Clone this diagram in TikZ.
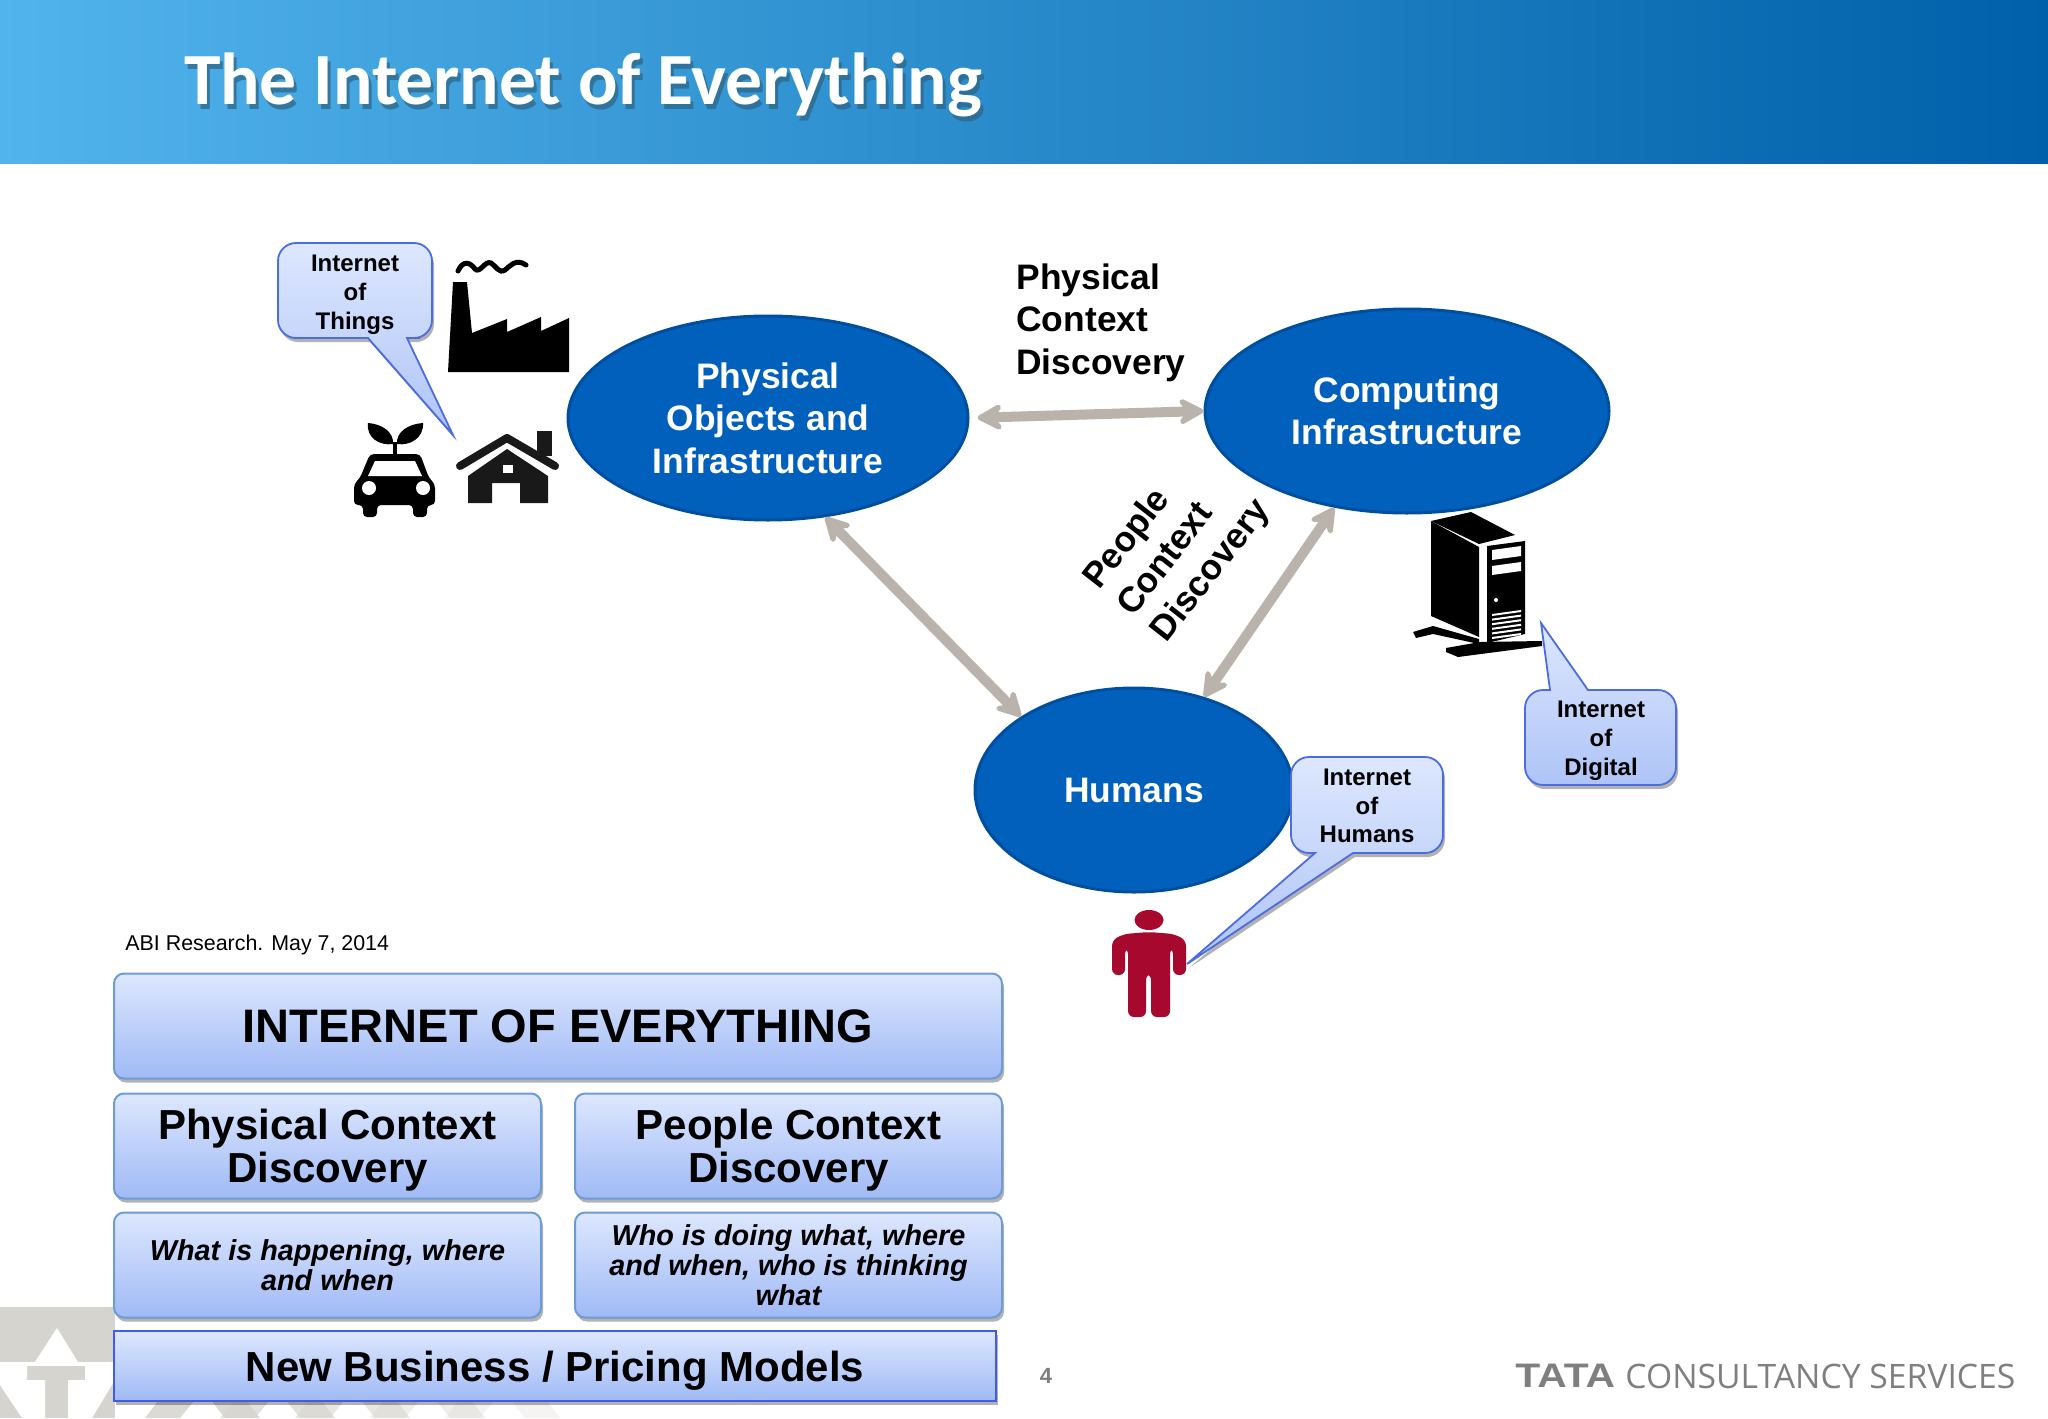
\documentclass[tikz,border=0pt]{standalone}
\usepackage{fontspec}
\setmainfont{Liberation Sans}
\newfontfamily\titlefont{Carlito}
\newfontfamily\logofont{Open Sans}
\usetikzlibrary{shapes.geometric}
\usetikzlibrary{shadows}
\usetikzlibrary{arrows.meta}

\definecolor{bandleft}{HTML}{52B4EC}
\definecolor{bandright}{HTML}{0060A9}
\definecolor{ovalblue}{HTML}{0060BC}
\definecolor{ovalline}{HTML}{004F9E}
\definecolor{boxtop}{HTML}{DDE7FE}
\definecolor{boxbottom}{HTML}{A0BAF6}
\definecolor{boxline}{HTML}{6C9BD6}
\definecolor{linkgrey}{HTML}{B9B3AB}
\definecolor{markgrey}{HTML}{D6D4CE}
\definecolor{footgrey}{HTML}{7F7F7F}
\definecolor{personred}{HTML}{A6092D}

\tikzset{
  softshadow/.style={drop shadow={shadow xshift=1pt,shadow yshift=-2pt,opacity=.3,fill=black}},
  oval/.style={ellipse,draw=ovalline,line width=1.5pt,fill=ovalblue,text=white,align=center,inner sep=0pt,
    font=\fontsize{17.7}{21.2}\selectfont\bfseries},
  panel/.style={rectangle,rounded corners=5pt,draw=boxline,line width=1pt,top color=boxtop,bottom color=boxbottom,
    align=center,inner sep=0pt,softshadow},
  heading/.style={font=\fontsize{21}{21.5}\selectfont\bfseries},
  question/.style={font=\fontsize{14.4}{15}\selectfont\bfseries\itshape},
  bubble/.style={draw=boxline!70!blue,line width=.9pt,top color=boxtop,bottom color=boxbottom!85!white,softshadow},
  bubbletext/.style={align=center,inner sep=0pt,font=\fontsize{12}{14.4}\selectfont\bfseries},
  sidetext/.style={align=left,inner sep=0pt,font=\fontsize{17.7}{21.4}\selectfont\bfseries},
  link/.style={linkgrey,line width=5pt,{Stealth[length=16pt,width=17pt,inset=6pt,round]}-{Stealth[length=16pt,width=17pt,inset=6pt,round]}}
}

\begin{document}
\begin{tikzpicture}[x=0.5pt,y=-0.5pt]
\useasboundingbox (0,0) rectangle (2048,1418);

\shade[left color=bandleft,right color=bandright] (0,0) rectangle (2048,163);
\node[inner sep=0pt,text=black!45!bandleft,opacity=.7] (titleshadow) at (586,90)
  {\titlefont\fontsize{36.8}{40}\selectfont\bfseries The Internet of Everything};
\node[inner sep=0pt,text=white] (title) at (583,85)
  {\titlefont\fontsize{36.8}{40}\selectfont\bfseries The Internet of Everything};

% watermark
\fill[markgrey] (0,1307) -- (115,1307) -- (115,1362) -- (0,1362) -- cycle;
\fill[white] (57,1328) -- (35,1362) -- (78,1362) -- cycle;
\fill[markgrey] (0,1366) -- (115,1366) -- (115,1418) -- (0,1418) -- cycle;
\fill[white] (0,1366) -- (27,1366) -- (27,1380) -- (45,1380) -- (45,1418) -- (22,1418) -- (0,1385) -- cycle;
\fill[white] (85,1366) -- (115,1366) -- (115,1380) -- (92,1418) -- (68,1418) -- (68,1380) -- (85,1380) -- cycle;
\foreach \i in {1,...,5}
  \fill[markgrey,opacity=1-0.15*\i] (70+75*\i,1418) -- (110+75*\i,1366) -- (145+75*\i,1366) -- (185+75*\i,1418) -- (150+75*\i,1418) -- (128+75*\i,1390) -- (105+75*\i,1418) -- cycle;

% ovals
\node[oval,minimum width=200pt,minimum height=102pt] (physical) at (768,418) {Physical\\Objects and\\Infrastructure};
\node[oval,minimum width=202pt,minimum height=102pt] (computing) at (1407,411) {Computing\\Infrastructure};
\node[oval,minimum width=159pt,minimum height=102pt] (humans) at (1134,790) {Humans};

\draw[link,shorten <=4pt] (physical.east) -- (computing.west);
\draw[link] (physical.-60) -- (humans.147);
\draw[link] (computing.-127) -- (humans.53);

\node[sidetext,anchor=north west] (physlabel) at (1016,263) {Physical\\Context\\Discovery};
\node[sidetext,rotate=52] (peoplelabel) at (1178,545) {People\\Context\\Discovery};

% factory
\fill[black] (453,282) -- (467,282) -- (472,333) -- (507,319) -- (507,332) -- (541,317) -- (541,331) -- (569,318) -- (569,372) -- (448,372) -- cycle;
\draw[black,line width=2.5pt,line cap=round] (458,271) .. controls (463,260) and (470,262) .. (475,269)
  .. controls (480,274) and (485,260) .. (491,263) .. controls (496,266) and (499,274) .. (505,270)
  .. controls (510,266) and (516,258) .. (526,265);

% car
\fill[black] (393,444) .. controls (380,446) and (366,438) .. (368,423) .. controls (382,424) and (394,432) .. (393,444) -- cycle;
\fill[black] (397,444) .. controls (410,446) and (424,438) .. (423,423) .. controls (408,424) and (396,432) .. (397,444) -- cycle;
\fill[black] (393,442) rectangle (397,456);
\fill[black,rounded corners=2pt] (370,454) -- (420,454) -- (429,478) -- (435,484) -- (435,505) -- (427,505) -- (427,517) -- (413,517) -- (413,505) -- (377,505) -- (377,517) -- (363,517) -- (363,505) -- (354,505) -- (354,484) -- (360,478) -- cycle;
\fill[white] (375,461) -- (415,461) -- (422,476) -- (368,476) -- cycle;
\fill[white] (369,488) circle[radius=7];
\fill[white] (423,488) circle[radius=7];

% house
\fill[black!90] (537,431) rectangle (552,456);
\draw[black!90,line width=4pt,line cap=round,line join=round] (460,466) -- (507,438) -- (555,466);
\fill[black!90] (468,503) -- (468,476) -- (507,449) -- (548,476) -- (548,503) -- (520,503) -- (520,483) -- (492,483) -- (492,503) -- cycle;
\fill[white] (503,465) rectangle (513,473);

% server
\fill[black] (1431,521) -- (1471,512) -- (1515,535) -- (1479,544) -- cycle;
\fill[black] (1431,521) -- (1479,547) -- (1479,637) -- (1431,616) -- cycle;
\fill[black] (1413,632) -- (1433,626) -- (1479,639) -- (1479,644) -- (1433,634) -- (1416,638) -- cycle;
\fill[black] (1446,648) -- (1480,642) -- (1542,641) -- (1542,646) -- (1458,657) -- (1446,652) -- cycle;
\fill[black] (1487,546) -- (1525,541) -- (1525,634) -- (1487,643) -- cycle;
\fill[white] (1492,550) -- (1521,546) -- (1521,556) -- (1492,560) -- cycle;
\fill[white] (1492,566) -- (1521,562) -- (1521,571) -- (1492,575) -- cycle;
\fill[white] (1496,600) circle[radius=2];
\foreach \i in {0,...,5}
  \fill[white] (1492,614+4.6*\i) -- (1521,610+4.6*\i) -- (1521,612+4.6*\i) -- (1492,616+4.6*\i) -- cycle;

% person
\fill[personred] (1149,920) ellipse[x radius=14.5,y radius=10];
\fill[personred,rounded corners=3pt] (1112,975) -- (1112,940) -- (1124,934) -- (1149,932) -- (1174,934) -- (1186,940) -- (1186,975) -- (1173,975) -- (1173,948) -- (1170,948) -- (1170,1017) -- (1151,1017) -- (1151,974) -- (1146,974) -- (1146,1017) -- (1128,1017) -- (1128,948) -- (1125,948) -- (1125,975) -- cycle;

% callouts
\draw[bubble] (420,338) [rounded corners=9pt] -- (432,338) -- (432,243) -- (278,243) -- (278,338) [sharp corners] -- (368,338) -- (453,435) -- (407,338) -- cycle;
\node[bubbletext] (bubblethings) at (355,295) {Internet\\of\\Things};
\draw[bubble] (1620,690) [rounded corners=9pt] -- (1676,690) -- (1676,785) -- (1525,785) -- (1525,690) [sharp corners] -- (1550,690) -- (1541,623) -- (1588,690) -- cycle;
\node[bubbletext] (bubbledigital) at (1601,741) {Internet\\of\\Digital};
\draw[bubble] (1400,853) [rounded corners=9pt] -- (1443,853) -- (1443,757) -- (1291,757) -- (1291,853) [sharp corners] -- (1315,853) -- (1187,964) -- (1353,853) -- cycle;
\node[bubbletext] (bubblehumans) at (1367,806) {Internet\\of\\Humans};

\node[inner sep=0pt,anchor=west,font=\fontsize{10.7}{13}\selectfont] (source) at (125,945) {ABI Research. May 7, 2014};

% table of panels
\node[panel,minimum width=444pt,minimum height=52.5pt,font=\fontsize{23.5}{26}\selectfont\bfseries] (everything) at (558,1026) {INTERNET OF EVERYTHING};
\node[panel,heading,minimum width=213.5pt,minimum height=52.5pt] (physpanel) at (327.5,1146) {\rule{0pt}{19pt}Physical Context\\Discovery};
\node[panel,heading,minimum width=213.5pt,minimum height=52.5pt] (peoplepanel) at (788.5,1146) {\rule{0pt}{19pt}People Context\\Discovery};
\node[panel,question,minimum width=213.5pt,minimum height=52.5pt] (whatpanel) at (327.5,1265) {What is happening, where\\and when};
\node[panel,question,minimum width=213.5pt,minimum height=52.5pt] (whopanel) at (788.5,1265) {Who is doing what, where\\and when, who is thinking\\what};
\node[panel,rounded corners=0pt,draw=boxline!60!blue,minimum width=441pt,minimum height=35pt,font=\fontsize{21}{23}\selectfont\bfseries,execute at begin node={\rule{0pt}{20pt}}] (business) at (555,1366) {New Business / Pricing Models};

% footer
\node[inner sep=0pt,text=footgrey,font=\fontsize{11}{13}\selectfont\bfseries] (pagenum) at (1046,1376) {4};
\node[inner sep=0pt,anchor=west,text=footgrey,font=\fontsize{17}{18}\selectfont\bfseries] (logoword) at (1515,1376) {\scalebox{1.2}[1]{TATA}};
\node[inner sep=0pt,anchor=west,text=footgrey,font=\logofont\fontsize{16.85}{20}\selectfont] (logoname) at (1625,1376) {CONSULTANCY SERVICES};
\end{tikzpicture}
\end{document}
